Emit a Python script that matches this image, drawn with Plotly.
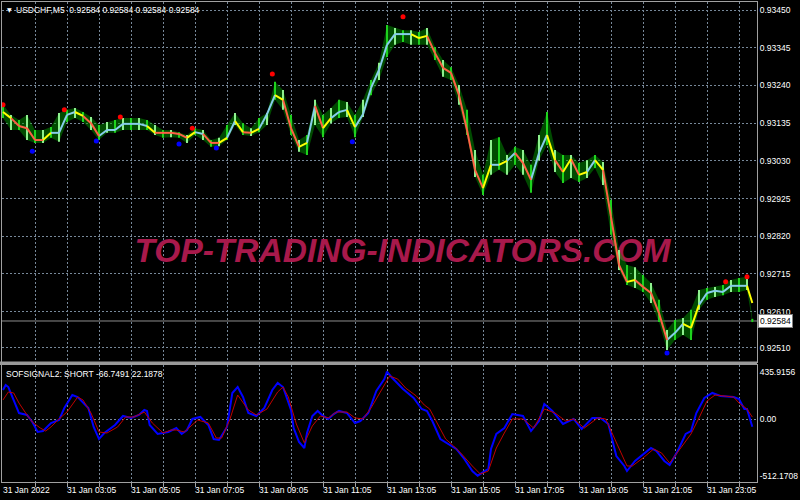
import plotly.graph_objects as go

W, H = 800, 500

# ---------------- price panel (USDCHF M5), sampled every 3 bars ----------------
bars = [0, 3, 6, 9, 12, 15, 18, 21, 24, 27, 30, 33, 36, 39, 42, 45, 48, 51, 54, 57,
        60, 63, 66, 69, 72, 75, 78, 81, 84, 87, 90, 93, 96, 99, 102, 105, 108, 111, 114, 117,
        120, 123, 126, 129, 132, 135, 138, 141, 144, 147, 150, 153, 156, 159, 162, 165, 168, 171, 174, 177,
        180, 183, 186, 189, 192, 195, 198, 201, 204, 207, 210, 213, 216, 219, 222, 225, 228, 231, 234, 237,
        240, 243, 246, 249, 252, 255, 258, 261, 264, 267, 270, 273, 276, 279, 281]

trend = [0.93166, 0.93149, 0.93127, 0.93121, 0.93088, 0.93088, 0.93108, 0.93108, 0.93158, 0.93166,
         0.93155, 0.93135, 0.93099, 0.93116, 0.93116, 0.93133, 0.93133, 0.93133, 0.93127, 0.93108,
         0.93108, 0.93108, 0.93105, 0.93094, 0.93110, 0.93105, 0.93080, 0.93080, 0.93094, 0.93141,
         0.93110, 0.93108, 0.93119, 0.93160, 0.93213, 0.93200, 0.93121, 0.93069, 0.93080, 0.93183,
         0.93121, 0.93149, 0.93166, 0.93172, 0.93124, 0.93160, 0.93233, 0.93283, 0.93353, 0.93383,
         0.93383, 0.93383, 0.93372, 0.93378, 0.93330, 0.93289, 0.93275, 0.93213, 0.93116, 0.93005,
         0.92954, 0.93019, 0.93019, 0.93030, 0.93052, 0.93024, 0.92977, 0.93052, 0.93102, 0.93032,
         0.92999, 0.93035, 0.92991, 0.92999, 0.93032, 0.93005, 0.92874, 0.92740, 0.92693, 0.92698,
         0.92679, 0.92662, 0.92606, 0.92531, 0.92551, 0.92576, 0.92565, 0.92629, 0.92662, 0.92668,
         0.92665, 0.92682, 0.92682, 0.92682, 0.92634]

# u = rising (light blue), d = falling (orange), t = turning (yellow)
trend_state = list("utddddtuuu" "tdduuuuuut" "ddddtuddtu" "tdtuutddtu" "dtuutuuuuu"
                   "uuttdddddd" "dtutudduut" "dtdtutdddt" "dddduuttuu" "uuuut")

bar_high = [0.93186, 0.93158, 0.93144, 0.93158, 0.93116, 0.93116, 0.93124, 0.93163, 0.93172, 0.93177,
            0.93166, 0.93152, 0.93130, 0.93138, 0.93144, 0.93149, 0.93149, 0.93149, 0.93144, 0.93130,
            0.93116, 0.93116, 0.93110, 0.93102, 0.93121, 0.93116, 0.93088, 0.93094, 0.93130, 0.93163,
            0.93135, 0.93121, 0.93149, 0.93163, 0.93250, 0.93227, 0.93158, 0.93088, 0.93102, 0.93200,
            0.93158, 0.93177, 0.93200, 0.93194, 0.93158, 0.93200, 0.93255, 0.93303, 0.93408, 0.93400,
            0.93394, 0.93394, 0.93389, 0.93400, 0.93347, 0.93311, 0.93291, 0.93241, 0.93172, 0.93060,
            0.92991, 0.93088, 0.93096, 0.93046, 0.93069, 0.93060, 0.93019, 0.93102, 0.93166, 0.93060,
            0.93046, 0.93046, 0.93024, 0.93032, 0.93046, 0.93027, 0.92921, 0.92782, 0.92740, 0.92734,
            0.92712, 0.92690, 0.92643, 0.92559, 0.92587, 0.92592, 0.92615, 0.92670, 0.92676, 0.92679,
            0.92684, 0.92698, 0.92704, 0.92707, 0.92590]

bar_low = [0.93149, 0.93116, 0.93116, 0.93088, 0.93080, 0.93080, 0.93094, 0.93083, 0.93138, 0.93149,
           0.93138, 0.93116, 0.93088, 0.93108, 0.93108, 0.93116, 0.93116, 0.93116, 0.93116, 0.93102,
           0.93094, 0.93096, 0.93094, 0.93080, 0.93102, 0.93088, 0.93069, 0.93071, 0.93088, 0.93130,
           0.93102, 0.93099, 0.93110, 0.93130, 0.93200, 0.93172, 0.93102, 0.93055, 0.93046, 0.93130,
           0.93096, 0.93135, 0.93149, 0.93152, 0.93096, 0.93152, 0.93213, 0.93255, 0.93319, 0.93353,
           0.93361, 0.93353, 0.93353, 0.93353, 0.93311, 0.93264, 0.93255, 0.93186, 0.93102, 0.92985,
           0.92935, 0.92991, 0.93005, 0.92991, 0.93019, 0.92991, 0.92941, 0.93032, 0.93074, 0.92999,
           0.92968, 0.92982, 0.92971, 0.92982, 0.93010, 0.92963, 0.92824, 0.92726, 0.92684, 0.92676,
           0.92665, 0.92634, 0.92581, 0.92503, 0.92531, 0.92545, 0.92531, 0.92615, 0.92643, 0.92651,
           0.92656, 0.92665, 0.92665, 0.92670, 0.92581]

red_dot_bars = [0, 23, 44, 71, 101, 150, 271, 279]
red_dot_price = [0.93186, 0.93172, 0.93152, 0.93121, 0.93272, 0.93431, 0.92693, 0.92707]
blue_dot_bars = [11, 35, 66, 80, 131, 249]
blue_dot_price = [0.93057, 0.93085, 0.93077, 0.93066, 0.93083, 0.92495]

last_price = 0.92584
price_ticks = [0.93450, 0.93345, 0.93240, 0.93135, 0.93030, 0.92925, 0.92820, 0.92715, 0.92610, 0.92510]
price_tick_text = ["0.93450", "0.93345", "0.93240", "0.93135", "0.93030",
                   "0.92925", "0.92820", "0.92715", "0.92610", "0.92510"]

# ---------------- SOFSIGNAL2 panel ----------------
sig_blue_bars = [0, 1, 2, 4, 6, 9, 11, 13, 15, 18, 21, 23, 26, 28, 32, 34, 36, 38, 42, 45,
                 48, 51, 53, 54, 55, 58, 62, 65, 67, 69, 71, 74, 77, 79, 81, 84, 86, 88, 90, 92,
                 95, 98, 101, 103, 105, 108, 109, 111, 113, 114, 116, 118, 120, 122, 124, 126, 129, 132, 134, 137,
                 140, 143, 144, 146, 150, 154, 157, 159, 161, 164, 167, 170, 173, 176, 178, 182, 183, 185, 188, 191,
                 195, 198, 201, 203, 206, 210, 214, 217, 221, 224, 227, 230, 233, 234, 237, 240, 243, 245, 248, 250,
                 253, 256, 258, 260, 263, 266, 269, 274, 276, 278, 279, 281]
sig_blue = [269, 315, 296, 178, 59, 41, -23, -114, -105, -32, -5, 105, 223, 205, 105, -68, -178, -123, -50, 32,
            14, 41, 87, 78, -50, -132, -114, -78, -132, -96, 5, 23, -50, -178, -187, -68, 242, 296, 205, 59,
            32, 105, 269, 333, 296, 87, -78, -205, -260, -123, 32, 78, 32, 5, 50, 78, 59, -32, -14, 59,
            260, 369, 435.9156, 378, 278, 196, 96, 78, -14, -178, -223, -269, -360, -470, -512.1708, -451, -269, -132, -78, 50,
            32, -105, -14, 141, 78, -41, 5, -87, 14, 14, -41, -333, -424, -470, -378, -315, -260, -287, -378, -415,
            -287, -132, -105, 59, 196, 242, 214, 205, 187, 96, 96, -66.7491]

sig_red_bars = [0, 2, 4, 6, 9, 11, 14, 16, 18, 21, 24, 28, 30, 33, 36, 39, 43, 46, 49, 53,
                56, 60, 63, 65, 68, 71, 73, 77, 80, 82, 85, 88, 92, 95, 99, 103, 105, 107, 110, 113,
                116, 119, 122, 125, 129, 132, 135, 138, 142, 145, 148, 151, 155, 158, 160, 163, 166, 169, 172, 176,
                179, 182, 185, 188, 191, 195, 199, 203, 207, 211, 214, 218, 223, 226, 230, 234, 236, 240, 244, 247,
                250, 254, 258, 261, 264, 267, 274, 276, 279, 281]
sig_red = [178, 251, 242, 150, 41, -23, -78, -105, -68, 5, 68, 205, 178, 59, -114, -123, -68, 23, 23, 68,
           -32, -123, -96, -96, -114, -50, -5, -32, -169, -169, -5, 223, 87, 41, 96, 251, 296, 205, -41, -214,
           -59, 32, 14, 68, 68, 14, 5, 105, 278, 397, 369, 287, 214, 132, 96, -41, -178, -242, -315, -424,
           -497, -470, -260, -123, 5, 5, -78, 96, 59, -14, 5, -78, 14, 5, -214, -424, -424, -351, -269, -306,
           -397, -260, -132, 14, 169, 223, 205, 150, 96, 22.1878]

sig_ticks = [435.9156, 0.0, -512.1708]
sig_tick_text = ["435.9156", "0.00", "-512.1708"]

time_tick_bars = [0, 24, 48, 72, 96, 120, 144, 168, 192, 216, 240, 264]
time_tick_text = ["31 Jan 2022", "31 Jan 03:05", "31 Jan 05:05", "31 Jan 07:05", "31 Jan 09:05",
                  "31 Jan 11:05", "31 Jan 13:05", "31 Jan 15:05", "31 Jan 17:05", "31 Jan 19:05",
                  "31 Jan 21:05", "31 Jan 23:05"]
grid_bars = list(range(12, 283, 12))

# ---------------- styling ----------------
FONT = "Liberation Sans"
FS = 8.5
GRID = "#778899"
DASH = "2px,2px"
BORDER = "#a0a0a0"
X_RANGE = [-0.375, 282.75]
XDOM = [2 / W, 757 / W]


def py(pix):
    return 1 - pix / H


fig = go.Figure()

# watermark behind everything
fig.add_trace(go.Scatter(
    x=[149.8], y=[0.92772], mode="text", text=["TOP-TRADING-INDICATORS.COM"],
    textfont=dict(family=FONT, size=33.5, color="#a8194b", weight="bold", style="italic"),
    textposition="middle center", hoverinfo="skip", showlegend=False, cliponaxis=False,
    xaxis="x", yaxis="y"))

# high-low envelope (dense bar cluster)
fig.add_trace(go.Scatter(x=bars, y=bar_low, mode="lines", line=dict(width=0, color="rgba(0,0,0,0)"),
                         hoverinfo="skip", showlegend=False, xaxis="x", yaxis="y"))
fig.add_trace(go.Scatter(x=bars, y=bar_high, mode="lines", line=dict(width=0, color="rgba(0,0,0,0)"),
                         fill="tonexty", fillcolor="rgba(0,150,0,0.5)",
                         hoverinfo="skip", showlegend=False, xaxis="x", yaxis="y"))

# green high-low bars
for parity, col in [(0, "#1ed21e"), (1, "#8ef08e")]:
    xs, ys = [], []
    for i in range(parity, len(bars), 2):
        xs += [bars[i], bars[i], None]
        ys += [bar_low[i], bar_high[i], None]
    fig.add_trace(go.Scatter(x=xs, y=ys, mode="lines", line=dict(color=col, width=2),
                             hoverinfo="skip", showlegend=False, xaxis="x", yaxis="y"))

# coloured trend line
state_colors = {"u": "#87cdeb", "d": "#ff6045", "t": "#ffff00"}
for code, col in state_colors.items():
    xs, ys = [], []
    for i in range(1, len(bars)):
        if trend_state[i] == code:
            xs += [bars[i - 1], bars[i], None]
            ys += [trend[i - 1], trend[i], None]
    fig.add_trace(go.Scatter(x=xs, y=ys, mode="lines", line=dict(color=col, width=2),
                             hoverinfo="skip", showlegend=False, xaxis="x", yaxis="y"))

# signal dots
fig.add_trace(go.Scatter(x=red_dot_bars, y=red_dot_price, mode="markers",
                         marker=dict(color="#ff0000", size=5), showlegend=False, xaxis="x", yaxis="y"))
fig.add_trace(go.Scatter(x=blue_dot_bars, y=blue_dot_price, mode="markers",
                         marker=dict(color="#0000ff", size=5), showlegend=False, xaxis="x", yaxis="y"))

# indicator lines
fig.add_trace(go.Scatter(x=sig_blue_bars, y=sig_blue, mode="lines", line=dict(color="#0000ff", width=2),
                         showlegend=False, xaxis="x2", yaxis="y2"))
fig.add_trace(go.Scatter(x=sig_red_bars, y=sig_red, mode="lines", line=dict(color="#c00000", width=1),
                         showlegend=False, xaxis="x2", yaxis="y2"))

axis_common = dict(showline=True, mirror=True, linecolor=BORDER, linewidth=1, zeroline=False)

fig.update_layout(
    width=W, height=H, margin=dict(l=0, r=0, t=0, b=0),
    paper_bgcolor="#000000", plot_bgcolor="#000000",
    showlegend=False,
    font=dict(family=FONT, size=FS, color="#ffffff"),
    xaxis=dict(domain=XDOM, range=X_RANGE, anchor="y", tickvals=grid_bars, showticklabels=False,
               ticks="", showgrid=True, gridcolor=GRID, griddash=DASH, gridwidth=1, **axis_common),
    yaxis=dict(domain=[py(362), py(2)], range=[0.924698, 0.934724], side="right", anchor="x",
               tickvals=price_ticks, ticktext=price_tick_text, ticks="",
               tickfont=dict(family=FONT, size=FS, color="#ffffff"),
               showgrid=True, gridcolor=GRID, griddash=DASH, gridwidth=1, **axis_common),
    xaxis2=dict(domain=XDOM, range=X_RANGE, anchor="y2", tickvals=grid_bars, showticklabels=False,
                ticks="outside", ticklen=4, tickcolor=BORDER,
                showgrid=True, gridcolor=GRID, griddash=DASH, gridwidth=1, **axis_common),
    yaxis2=dict(domain=[py(482), py(365)], range=[-570, 497], side="right", anchor="x2",
                tickvals=sig_ticks, ticktext=sig_tick_text, ticks="",
                tickfont=dict(family=FONT, size=FS, color="#ffffff"),
                showgrid=False, **axis_common),
)

# zero line of the indicator
fig.add_shape(type="line", xref="x2 domain", x0=0, x1=1, yref="y2", y0=0, y1=0,
              line=dict(color=GRID, width=1, dash=DASH), layer="below")
# last price line
fig.add_shape(type="line", xref="x domain", x0=0, x1=1, yref="y", y0=last_price, y1=last_price,
              line=dict(color="#8c8c8c", width=1), layer="below")
# separator band between panels
fig.add_shape(type="rect", xref="paper", x0=0, x1=757 / W, yref="paper", y0=py(365), y1=py(361.5),
              fillcolor="#9a9a9a", line=dict(width=0), layer="above")

# last price label
fig.add_annotation(xref="paper", x=758 / W, xanchor="left", yref="y", y=last_price, yanchor="middle",
                   text="0.92584", showarrow=False, bgcolor="#ffffff", bordercolor="#808080",
                   borderwidth=1, borderpad=1, font=dict(family=FONT, size=FS, color="#000000"))

# headers
fig.add_annotation(xref="paper", yref="paper", x=5 / W, y=py(9), xanchor="left", yanchor="middle",
                   text="▼", showarrow=False, font=dict(family="DejaVu Sans", size=6, color="#ffffff"))
fig.add_annotation(xref="paper", yref="paper", x=14 / W, y=py(9.5), xanchor="left", yanchor="middle",
                   text="USDCHF,M5  0.92584 0.92584 0.92584 0.92584", showarrow=False,
                   font=dict(family=FONT, size=FS, color="#ffffff"))
fig.add_annotation(xref="paper", yref="paper", x=4 / W, y=py(373.5), xanchor="left", yanchor="middle",
                   text="SOFSIGNAL2: SHORT -66.7491 22.1878", showarrow=False,
                   font=dict(family=FONT, size=FS, color="#ffffff"))

# time labels
for b, t in zip(time_tick_bars, time_tick_text):
    fig.add_annotation(xref="x2", x=b, xanchor="left", xshift=-2, yref="paper", y=py(490),
                       yanchor="middle", text=t, showarrow=False,
                       font=dict(family=FONT, size=FS, color="#ffffff"))

fig.write_html("out.html", config={"displayModeBar": False},
               post_script="document.body.style.margin='0px';document.body.style.padding='0px';")
